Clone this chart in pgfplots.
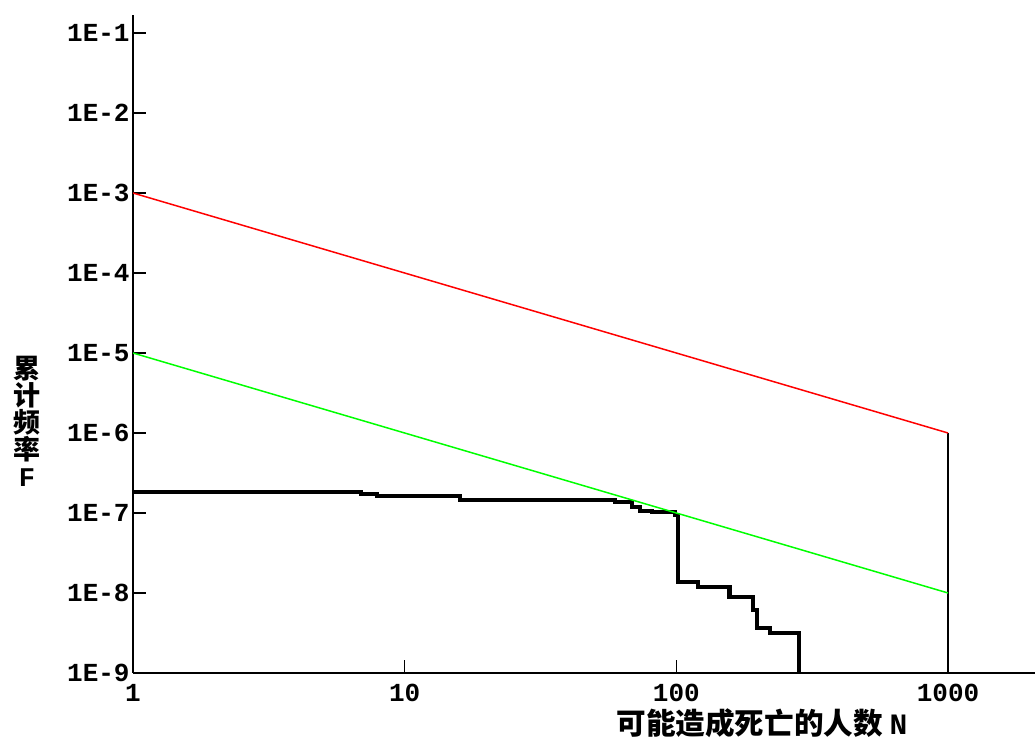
\documentclass[border=0pt]{standalone}
\usepackage{fontspec}
\setmainfont{Liberation Serif}
\newfontfamily\monofont{Liberation Mono}
\newfontfamily\cjk{Noto Sans CJK SC}
\usepackage{pgfplots}
\pgfplotsset{compat=1.18}
\begin{document}
\begin{tikzpicture}
\path[use as bounding box] (0,0) rectangle (517.5pt,371pt);
\begin{axis}[
  at={(66.5pt,34.5pt)}, anchor=south west,
  scale only axis, width=451pt, height=329pt,
  xmode=log, ymode=log,
  xmin=1, xmax=2090, ymin=1e-9, ymax=0.168,
  axis x line*=bottom, axis y line*=left,
  xtick={1,10,100,1000}, xticklabels={1,10,100,1000},
  ytick={1e-9,1e-8,1e-7,1e-6,1e-5,1e-4,1e-3,1e-2,1e-1},
  yticklabels={1E-9,1E-8,1E-7,1E-6,1E-5,1E-4,1E-3,1E-2,1E-1},
  xminorticks=false, yminorticks=false,
  tick align=inside, major tick length=6.5pt,
  tick style={black, line width=0.75pt},
  axis line style={black, line width=0.8pt},
  ticklabel style={font=\monofont\bfseries\fontsize{13}{13}\selectfont},
  yticklabel style={inner sep=1.5pt},
  xticklabel style={yshift=-2pt},
]
\addplot[const plot, black, line width=2.1pt] coordinates {
  (1,1.83e-7) (6.9,1.73e-7) (7.9,1.63e-7) (16,1.45e-7) (59.4,1.37e-7)
  (68.7,1.19e-7) (73.5,1.06e-7) (81.3,1.03e-7) (98.9,9.4e-8)
  (101.4,1.37e-8) (120,1.19e-8) (157,8.9e-9) (191,6.1e-9)
  (198,3.65e-9) (221,3.16e-9) (283,1e-9)
};
\addplot[black, line width=0.75pt] coordinates {(1000,1e-6) (1000,1e-9)};
\addplot[color={rgb,255:red,0;green,255;blue,0}, line width=0.75pt] coordinates {(1,1e-5) (1000,1e-8)};
\addplot[color={rgb,255:red,255;green,0;blue,0}, line width=0.75pt] coordinates {(1,1e-3) (1000,1e-6)};
\end{axis}
\node[align=center, inner sep=0pt, font=\cjk\bfseries\fontsize{13.5}{13.5}\selectfont] at (13.5pt,160.5pt) {累\\计\\频\\率\\{\monofont\bfseries F}};
\node[inner sep=0pt, font=\cjk\bfseries\fontsize{14.8}{14.8}\selectfont] at (381pt,9.5pt) {可能造成死亡的人数\ {\monofont\bfseries N}};
\end{tikzpicture}
\end{document}
